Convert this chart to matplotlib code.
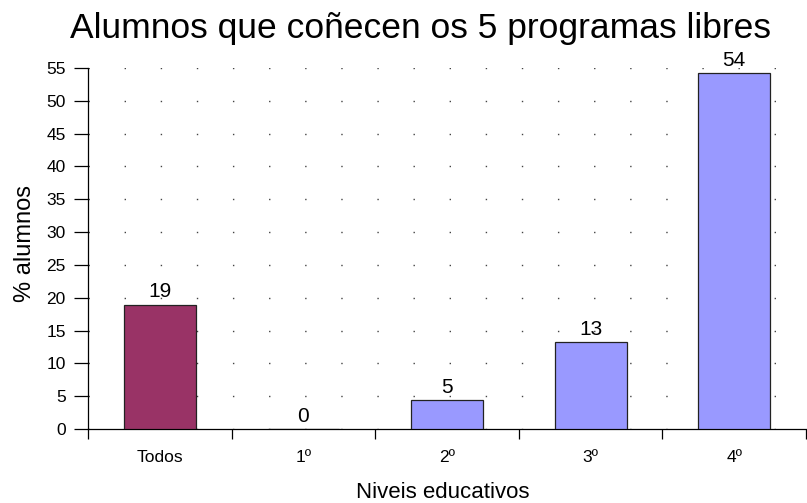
import matplotlib.pyplot as plt
import numpy as np

plt.rcParams['font.family'] = ['Liberation Sans', 'DejaVu Sans']

categories = ['Todos', '1º', '2º', '3º', '4º']
values = [18.9, 0.0, 4.4, 13.2, 54.2]
labels = ['19', '0', '5', '13', '54']
colors = ['#993366', '#9999ff', '#9999ff', '#9999ff', '#9999ff']

fig = plt.figure(figsize=(8.07, 5.03), dpi=100)
ax = fig.add_axes([88 / 807, 74 / 503, (806 - 88) / 807, (429 - 68) / 503])

x = np.arange(len(categories))
ax.bar(x, values, width=0.5, color=colors, edgecolor='#222222', linewidth=0.9, zorder=3)
for xi, v, lab in zip(x, values, labels):
    ax.annotate(lab, (xi, v), xytext=(0, 2.5), textcoords='offset points',
                ha='center', va='bottom', fontsize=15, zorder=4)

ax.set_xlim(-0.5, len(categories) - 0.5)
ax.set_ylim(0, 55)
ax.set_yticks(np.arange(0, 56, 5))
ax.set_xticks(np.arange(-0.5, len(categories), 1.0))
ax.set_xticklabels([])
ax.set_xticks(x, minor=True)
ax.set_xticklabels(categories, minor=True, fontsize=12.5)
ax.tick_params(axis='x', which='minor', length=0, pad=15)
ax.tick_params(axis='x', which='major', length=7, direction='out', width=0.9)
ax.tick_params(axis='y', length=10, direction='out', width=0.9, labelsize=12.5, pad=6)

ax.yaxis.grid(True, color='#444444', linestyle=(0, (1, 25)), linewidth=1.0, zorder=0)
for s in ['top', 'right']:
    ax.spines[s].set_visible(False)
ax.spines['left'].set_linewidth(0.9)
ax.spines['bottom'].set_linewidth(0.9)

fig.text(420 / 807, 1 - 38 / 503, 'Alumnos que coñecen os 5 programas libres',
         fontsize=25.5, ha='center', va='baseline')
ax.set_ylabel('% alumnos', fontsize=17)
ax.yaxis.set_label_coords(-0.073, 0.515)
ax.set_xlabel('Niveis educativos', fontsize=16)
ax.xaxis.set_label_coords(0.494, -0.146)

fig.savefig('out.png', dpi=100)
